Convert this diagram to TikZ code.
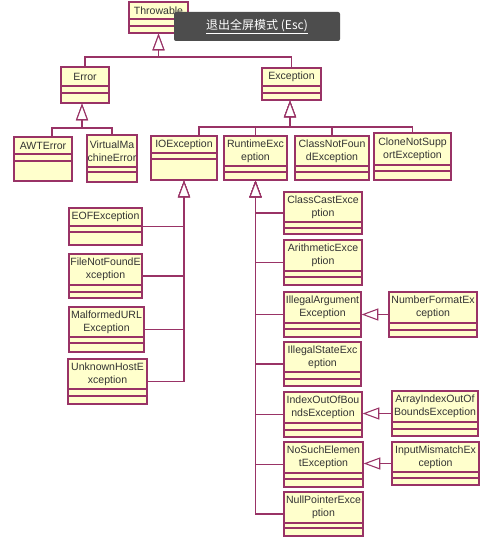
\documentclass[tikz,border=0pt]{standalone}
\usepackage{fontspec}
\setmainfont{Liberation Sans}
\newfontfamily\cjkfont{Noto Sans CJK SC}
\usetikzlibrary{fit,arrows.meta}
\definecolor{umlborder}{HTML}{993366}
\definecolor{umlfill}{HTML}{FFFFCC}
\definecolor{umltext}{HTML}{333333}
\definecolor{tipbg}{HTML}{4D4D4D}
\tikzset{
  clsbox/.style={draw=umlborder, fill=umlfill, line width=0.9pt, inner sep=0pt},
  clsline/.style={draw=umlborder, line width=0.9pt},
  clstext/.style={text=umltext, font=\fontsize{7.9}{9.6}\selectfont, align=center, inner sep=0pt},
  conn/.style={draw=umlborder, line width=0.8pt},
  inh/.style={conn, -{Triangle[length=12.5pt, width=9pt, fill=white]}},
}
\newcommand{\umlclass}[8]{%
  \node[clsbox, fit={(#2,#3) (#4,#5)}] (#1) {};
  \draw[clsline] (#2,#6) -- (#4,#6) (#2,#7) -- (#4,#7);
  \node[clstext] (#1-t) at ({(#2+#4)/2},{(#3+#6)/2}) {#8};
}
\begin{document}
\begin{tikzpicture}[x=0.75pt, y=-0.75pt]
\useasboundingbox[fill=white] (0,0) rectangle (500,548);

% classes
\umlclass{thr}{129}{2}{188}{33}{19}{26}{Throwable}
\umlclass{err}{61}{67}{109}{103}{86}{93}{Error}
\umlclass{exc}{262}{68}{321}{100}{86}{93}{Exception}
\umlclass{awt}{14}{137}{72}{181}{154}{161}{AWTError}
\umlclass{vme}{87}{135}{137}{182}{167}{172}{VirtualMa\\chineError}
\umlclass{ioe}{151}{136}{217}{180}{153}{159}{IOException}
\umlclass{rte}{224}{136}{287}{180}{166}{172}{RuntimeExc\\eption}
\umlclass{cnf}{295}{136}{369}{180}{166}{172}{ClassNotFoun\\dException}
\umlclass{cns}{374}{133}{451}{180}{165}{171}{CloneNotSupp\\ortException}
\umlclass{eof}{69}{208}{142}{245}{226}{232}{EOFException}
\umlclass{fnf}{69}{254}{142}{298}{285}{292}{FileNotFoundE\\xception}
\umlclass{mal}{69}{307}{144}{352}{337}{343}{MalformedURL\\Exception}
\umlclass{uhe}{68}{359}{147}{404}{389}{396}{UnknownHostE\\xception}
\umlclass{cce}{284}{192}{362}{234}{222}{228}{ClassCastExce\\ption}
\umlclass{ari}{284}{240}{362}{285}{271}{277}{ArithmeticExce\\ption}
\umlclass{iae}{284}{292}{361}{337}{323}{329}{IllegalArgument\\Exception}
\umlclass{nfe}{389}{292}{477}{337}{323}{330}{NumberFormatEx\\ception}
\umlclass{ise}{284}{342}{361}{386}{372}{379}{IllegalStateExc\\eption}
\umlclass{ioob}{284}{392}{362}{437}{423}{430}{IndexOutOfBou\\ndsException}
\umlclass{aioob}{392}{391}{478}{436}{422}{429}{ArrayIndexOutOf\\BoundsException}
\umlclass{nse}{284}{442}{363}{487}{473}{479}{NoSuchElemen\\tException}
\umlclass{ime}{392}{442}{479}{485}{472}{478}{InputMismatchEx\\ception}
\umlclass{npe}{284}{492}{363}{536}{523}{528}{NullPointerExce\\ption}

% bus coordinates
\coordinate (tbus) at (158.5,57);
\coordinate (ebus) at (82,128);
\coordinate (ebusL) at (52,128);
\coordinate (xbus) at (290,127);
\coordinate (xbusIO) at (199,127);

% Throwable
\draw[inh] (err.north) |- (tbus) -- (thr.south);
\draw[inh] (exc.north) |- (tbus) -- (thr.south);

% Error
\draw[inh] (ebusL |- awt.north) -- (ebusL) -- (ebus) -- (ebus |- err.south);
\draw[inh] (vme.north) |- (ebus) -- (ebus |- err.south);

% Exception
\draw[inh] (xbusIO |- ioe.north) -- (xbusIO) -- (xbus) -- (xbus |- exc.south);
\draw[inh] (rte.north) |- (xbus) -- (xbus |- exc.south);
\draw[inh] (cnf.north) |- (xbus) -- (xbus |- exc.south);
\draw[inh] (cns.north) |- (xbus) -- (xbus |- exc.south);

% IOException
\draw[inh] (eof.east) -| (ioe.south);
\draw[inh] (fnf.east) -| (ioe.south);
\draw[inh] (mal.east) -| (ioe.south);
\draw[inh] (uhe.east) -| (ioe.south);

% RuntimeException
\foreach \c in {cce,ari,iae,ise,ioob,nse,npe}
  \draw[inh] (\c.west) -| (rte.south);

% side inheritance
\draw[inh] (nfe.west) -- (iae.east);
\draw[inh] (aioob.west) -- (aioob.west -| ioob.east);
\draw[inh] (ime.west) -- (ime.west -| nse.east);

% overlay tooltip
\node[fill=tipbg, rounded corners=1.5pt, minimum width=124.5pt, minimum height=21.75pt,
      inner sep=0pt, text=white, font=\cjkfont\fontsize{9}{11}\selectfont] (tip) at (257,26.5)
      {\underline{退出全屏模式 (Esc)}};
\end{tikzpicture}
\end{document}
